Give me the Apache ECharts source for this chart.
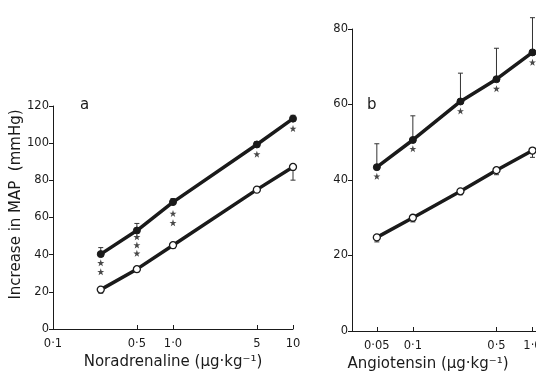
<!DOCTYPE html>
<html><head><meta charset="utf-8">
<script src="https://cdn.jsdelivr.net/npm/echarts@6/dist/echarts.min.js"></script>
<style>html,body{margin:0;padding:0;background:#fff}#c{width:536px;height:372px}</style>
</head><body><div id="c"></div>
<script>
// ---- Panel a: Noradrenaline ----
const noraDoses = [0.25, 0.5, 1, 5, 10];
const noraFilled = [40.3, 53, 68.3, 99.3, 113.2];
const noraFilledUpper = [43.8, 56.8, 70.2, 100.8, 115];
const noraOpen = [21.2, 32.2, 45.1, 75, 87.2];
const noraOpenLower = [19.3, 30.6, 43.3, 73.6, 80.1];
const noraStars = [[0.25, 35.6], [0.25, 30.8], [0.5, 49.6], [0.5, 45.2], [0.5, 40.7], [1, 62.2], [1, 57.2], [5, 94.1], [10, 107.9]];
const noraTicks = [0.1, 0.5, 1, 5, 10];
const noraTickLabels = ['0·1', '0·5', '1·0', '5', '10'];

// ---- Panel b: Angiotensin ----
const angDoses = [0.05, 0.1, 0.25, 0.5, 1];
const angFilled = [43.4, 50.6, 60.8, 66.7, 73.8];
const angFilledUpper = [49.6, 57, 68.3, 74.9, 83];
const angOpen = [24.8, 30, 37, 42.6, 47.8];
const angOpenLower = [23.6, 28.9, 36.1, 41.4, 46];
const angStars = [[0.05, 41], [0.1, 48.3], [0.25, 58.3], [0.5, 64.2], [1, 71.2]];
const angTicks = [0.05, 0.1, 0.5, 1];
const angTickLabels = ['0·05', '0·1', '0·5', '1·0'];

const L = Math.log10;
const FONT = 'DejaVu Sans';
const INK = '#1a1a1a';
const STAR = 'path://M0,-5L1.2,-1.5L4.8,-1.5L1.9,0.6L3,4L0,2L-3,4L-1.9,0.6L-4.8,-1.5L-1.2,-1.5Z';

function pairs(xs, ys) { return xs.map((x, i) => [L(x), ys[i]]); }
function errData(xs, mean, end) { return xs.map((x, i) => [L(x), mean[i], end[i]]); }
function labelFor(ticks, labels) {
  return v => { let best = 0, d = 1e9; ticks.forEach((t, i) => { const dd = Math.abs(L(t) - v); if (dd < d) { d = dd; best = i; } }); return labels[best]; };
}
function errRender(params, api) {
  const x = api.value(0);
  const p1 = api.coord([x, api.value(1)]);
  const p2 = api.coord([x, api.value(2)]);
  const style = { stroke: '#333', lineWidth: 1 };
  return { type: 'group', children: [
    { type: 'line', shape: { x1: p1[0], y1: p1[1], x2: p2[0], y2: p2[1] }, style },
    { type: 'line', shape: { x1: p2[0] - 2.5, y1: p2[1], x2: p2[0] + 2.5, y2: p2[1] }, style }
  ]};
}

function xAxisDef(gi, min, max, ticks, labels, name, pad) {
  return {
    type: 'value', gridIndex: gi, min, max,
    axisLine: { onZero: false, lineStyle: { color: INK, width: 1 } },
    axisTick: { inside: true, length: 4, lineStyle: { color: INK }, customValues: ticks.map(L) },
    axisLabel: { customValues: ticks.map(L), formatter: labelFor(ticks, labels), color: INK, fontFamily: FONT, fontSize: 11.5, margin: 9 },
    splitLine: { show: false },
    name, nameLocation: 'middle', nameGap: 25,
    nameTextStyle: { color: INK, fontFamily: FONT, fontSize: 15, padding: pad }
  };
}
function yAxisDef(gi, max, name) {
  return {
    type: 'value', gridIndex: gi, min: 0, max, interval: 20,
    axisLine: { show: true, onZero: false, lineStyle: { color: INK, width: 1 } },
    axisTick: { show: true, length: 4, lineStyle: { color: INK } },
    axisLabel: { color: INK, fontFamily: FONT, fontSize: 11.5, margin: 4 },
    splitLine: { show: false },
    name: name || '', nameLocation: 'middle', nameGap: 22,
    nameTextStyle: { color: INK, fontFamily: FONT, fontSize: 15, padding: [0, 0, 0, 26] }
  };
}

function lineSeries(xi, data, filled) {
  return {
    type: 'line', xAxisIndex: xi, yAxisIndex: xi, data, z: 5,
    lineStyle: { color: INK, width: 3.5 },
    symbol: 'circle', symbolSize: 7,
    itemStyle: filled ? { color: INK, borderColor: INK, borderWidth: 1 } : { color: '#fff', borderColor: INK, borderWidth: 1.3 },
    animation: false
  };
}
function errSeries(xi, data) {
  return { type: 'custom', xAxisIndex: xi, yAxisIndex: xi, data, renderItem: errRender, z: 3, clip: false, animation: false };
}
function starSeries(xi, data) {
  return { type: 'scatter', xAxisIndex: xi, yAxisIndex: xi, data, symbol: STAR, symbolSize: 7, itemStyle: { color: INK }, z: 4, animation: false };
}

const chart = echarts.init(document.getElementById('c'));
chart.setOption({
  backgroundColor: '#fff',
  animation: false,
  grid: [
    { left: 53, top: 106, width: 240, bottom: 43, outerBoundsMode: 'none', containLabel: false },
    { left: 352, top: 29, right: 0, bottom: 41, outerBoundsMode: 'none', containLabel: false }
  ],
  xAxis: [
    xAxisDef(0, -1, 1, noraTicks, noraTickLabels, 'Noradrenaline (μg·kg⁻¹)', [0, 0, 0, 0]),
    xAxisDef(1, L(0.031), L(1.07), angTicks, angTickLabels, 'Angiotensin (μg·kg⁻¹)', [0, 32, 0, 0])
  ],
  yAxis: [
    yAxisDef(0, 120, 'Increase in MAP  (mmHg)'),
    yAxisDef(1, 80, '')
  ],
  graphic: [
    { type: 'text', left: 80, top: 98, style: { text: 'a', font: '15px ' + FONT, fill: INK } },
    { type: 'text', left: 367, top: 98, style: { text: 'b', font: '15px ' + FONT, fill: INK } }
  ],
  series: [
    errSeries(0, errData(noraDoses, noraFilled, noraFilledUpper)),
    errSeries(0, errData(noraDoses, noraOpen, noraOpenLower)),
    lineSeries(0, pairs(noraDoses, noraFilled), true),
    lineSeries(0, pairs(noraDoses, noraOpen), false),
    starSeries(0, noraStars.map(p => [L(p[0]), p[1]])),
    errSeries(1, errData(angDoses, angFilled, angFilledUpper)),
    errSeries(1, errData(angDoses, angOpen, angOpenLower)),
    lineSeries(1, pairs(angDoses, angFilled), true),
    lineSeries(1, pairs(angDoses, angOpen), false),
    starSeries(1, angStars.map(p => [L(p[0]), p[1]]))
  ]
});
</script></body></html>
